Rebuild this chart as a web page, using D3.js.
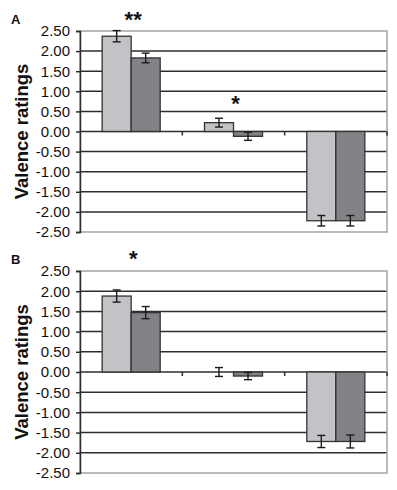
<!DOCTYPE html>
<html>
<head>
<meta charset="utf-8">
<script src="https://cdn.jsdelivr.net/npm/d3@7"></script>
<style>
  html, body { margin: 0; padding: 0; background: #fff; }
  svg { display: block; }
</style>
</head>
<body>
<svg id="grafico" width="397" height="490"></svg>
<script>
// categorias (sem rótulos no eixo x)
const categorias = ["c1", "c2", "c3"];
const series = ["claro", "escuro"];

// painel A
const claroA = [2.37, 0.22, -2.22];
const erroClaroA = [0.14, 0.11, 0.13];
const escuroA = [1.83, -0.12, -2.22];
const erroEscuroA = [0.12, 0.10, 0.13];
const sigA = ["**", "*", ""];
const sigPosA = [2.85, 0.77, null];

// painel B
const claroB = [1.88, 0.00, -1.72];
const erroClaroB = [0.15, 0.11, 0.15];
const escuroB = [1.47, -0.10, -1.72];
const erroEscuroB = [0.15, 0.09, 0.16];
const sigB = ["*", "", ""];
const sigPosB = [2.87, null, null];

const ticksY = [2.5, 2, 1.5, 1, 0.5, 0, -0.5, -1, -1.5, -2, -2.5];

const cores = { claro: "#c2c3c7", escuro: "#808286" };

const svg = d3.select("#grafico");
const fonte = "'Liberation Sans', Arial, sans-serif";

function painel(letra, top, bottom, claro, erroClaro, escuro, erroEscuro, sig, sigPos) {
    const left = 80, right = 387;
    const g = svg.append("g");

    const y = d3.scaleLinear().domain([-2.5, 2.5]).range([bottom, top]);
    const x0 = d3.scaleBand().domain(categorias).range([left, right])
        .paddingInner(0.433).paddingOuter(0.2165);
    const x1 = d3.scaleBand().domain(series).range([0, x0.bandwidth()]);

    // grade
    g.append("g").selectAll("line")
        .data(ticksY.filter(v => Math.abs(v) < 2.5))
        .join("line")
        .attr("x1", left).attr("x2", right)
        .attr("y1", d => y(d)).attr("y2", d => y(d))
        .attr("stroke", "#2e2e2e").attr("stroke-width", 1.5);

    // borda
    g.append("rect")
        .attr("x", left).attr("y", top)
        .attr("width", right - left).attr("height", bottom - top)
        .attr("fill", "none").attr("stroke", "#a4a4a4").attr("stroke-width", 1.5);

    // eixo y
    const eixo = g.append("g")
        .attr("transform", `translate(${left},0)`)
        .call(d3.axisLeft(y).tickValues(ticksY).tickSize(4).tickPadding(6)
            .tickFormat(d => d.toFixed(2)));
    eixo.select(".domain").attr("stroke", "#2e2e2e").attr("stroke-width", 1.5);
    eixo.selectAll(".tick line").attr("stroke", "#2e2e2e").attr("stroke-width", 1.5);
    eixo.selectAll("text")
        .attr("font-family", fonte).attr("font-size", 15).attr("fill", "#111");

    // ticks do eixo x na linha zero
    g.append("g").selectAll("line")
        .data(categorias)
        .join("line")
        .attr("x1", d => x0(d) + x0.bandwidth() / 2 + x0.step() / 2)
        .attr("x2", d => x0(d) + x0.bandwidth() / 2 + x0.step() / 2)
        .attr("y1", y(0)).attr("y2", y(0) + 4)
        .attr("stroke", "#2e2e2e").attr("stroke-width", 1.5);

    const dados = categorias.flatMap((c, i) => [
        { c, s: "claro", v: claro[i], e: erroClaro[i] },
        { c, s: "escuro", v: escuro[i], e: erroEscuro[i] }
    ]);

    // barras
    g.append("g").selectAll("rect")
        .data(dados)
        .join("rect")
        .attr("x", d => x0(d.c) + x1(d.s))
        .attr("width", x1.bandwidth())
        .attr("y", d => y(Math.max(0, d.v)))
        .attr("height", d => Math.abs(y(d.v) - y(0)))
        .attr("fill", d => cores[d.s])
        .attr("stroke", "#333").attr("stroke-width", 1.3);

    // barras de erro
    const eb = g.append("g").selectAll("g")
        .data(dados)
        .join("g")
        .attr("transform", d => `translate(${x0(d.c) + x1(d.s) + x1.bandwidth() / 2},0)`)
        .attr("stroke", "#1a1a1a").attr("stroke-width", 1.4);
    eb.append("line").attr("y1", d => y(d.v - d.e)).attr("y2", d => y(d.v + d.e));
    eb.append("line").attr("x1", -4).attr("x2", 4)
        .attr("y1", d => y(d.v - d.e)).attr("y2", d => y(d.v - d.e));
    eb.append("line").attr("x1", -4).attr("x2", 4)
        .attr("y1", d => y(d.v + d.e)).attr("y2", d => y(d.v + d.e));

    // asteriscos
    g.append("g").selectAll("text")
        .data(categorias.map((c, i) => ({ c, t: sig[i], p: sigPos[i] })).filter(d => d.t))
        .join("text")
        .attr("x", d => x0(d.c) + x0.bandwidth() / 2 + 2)
        .attr("y", d => y(d.p) + 10)
        .attr("text-anchor", "middle")
        .attr("font-family", fonte).attr("font-weight", "bold").attr("font-size", 22)
        .attr("fill", "#111")
        .text(d => d.t);

    // título do eixo y
    g.append("text")
        .attr("transform", `translate(28,${(top + bottom) / 2}) rotate(-90)`)
        .attr("text-anchor", "middle")
        .attr("font-family", fonte).attr("font-weight", "bold").attr("font-size", 18.5)
        .attr("fill", "#111")
        .text("Valence ratings");

    // letra do painel
    g.append("text")
        .attr("x", 11).attr("y", top - 7)
        .attr("font-family", fonte).attr("font-weight", "bold").attr("font-size", 13)
        .attr("fill", "#111")
        .text(letra);
}

painel("A", 31, 232, claroA, erroClaroA, escuroA, erroEscuroA, sigA, sigPosA);
painel("B", 271, 473, claroB, erroClaroB, escuroB, erroEscuroB, sigB, sigPosB);
</script>
</body>
</html>
